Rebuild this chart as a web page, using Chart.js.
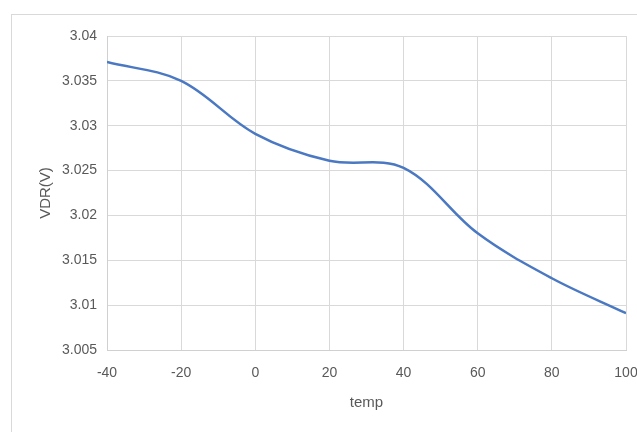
<!DOCTYPE html>
<html>
<head>
<meta charset="utf-8">
<script src="https://cdn.jsdelivr.net/npm/chart.js@4"></script>
<style>
  html, body { margin: 0; padding: 0; background: #fff; }
  #wrap { position: relative; width: 637px; height: 432px; }
</style>
</head>
<body>
<div id="wrap"><canvas id="my-chart" width="637" height="432"></canvas></div>
<script>
// valori
const temp = [-40, -20, 0, 20, 40, 60, 80, 100];
const vdr = [3.0371, 3.035, 3.0291, 3.0261, 3.0253, 3.018, 3.013, 3.0091];
const yTickLabels = ['3.005', '3.01', '3.015', '3.02', '3.025', '3.03', '3.035', '3.04'];

const ctx = document.getElementById('my-chart');

/* bordo esterno come in Excel */
const outerBorder = {
    id: 'outerBorder',
    beforeDraw(chart) {
        const c = chart.ctx;
        c.save();
        c.strokeStyle = '#d9d9d9';
        c.lineWidth = 1;
        c.strokeRect(11.5, 14.5, 700, 500);
        c.restore();
    }
};

const font = { family: 'Liberation Sans', size: 14 };

const data = {
    datasets: [{
        label: 'VDR(V)',
        data: temp.map((t, i) => ({ x: t, y: vdr[i] })),
        borderColor: '#4a78c2',
        borderWidth: 2.5,
        pointRadius: 0,
        tension: 0.35,
        fill: false
    }]
};

const config = {
    type: 'line',
    data: data,
    options: {
        responsive: false,
        animation: false,
        layout: { padding: { top: 36, right: 11, bottom: 0, left: 0 } },
        plugins: {
            legend: { display: false },
            tooltip: { enabled: false }
        },
        scales: {
            x: {
                type: 'linear',
                min: -40,
                max: 100,
                ticks: { stepSize: 20, color: '#595959', font: font, padding: 15 },
                grid: { color: '#d9d9d9', drawTicks: false },
                border: { color: '#d0d0d0' },
                title: { display: true, text: 'temp', color: '#595959', font: { family: 'Liberation Sans', size: 15 }, padding: { top: 0, bottom: 20 } },
                afterFit: (s) => {
                    s.height = 82;
                    s.paddingLeft = 0;
                    s.paddingRight = 0;
                }
            },
            y: {
                min: 3.005,
                max: 3.04,
                ticks: {
                    stepSize: 0.005,
                    color: '#595959',
                    font: font,
                    padding: 10,
                    callback: (v, i) => yTickLabels[i] || String(parseFloat(v.toFixed(3)))
                },
                grid: { color: '#d9d9d9', drawTicks: false },
                border: { color: '#d0d0d0' },
                title: { display: true, text: 'VDR(V)', color: '#595959', font: { family: 'Liberation Sans', size: 15 }, padding: { top: 37, bottom: 0 } },
                afterFit: (s) => {
                    s.width = 107;
                    s.paddingTop = 0;
                    s.paddingBottom = 0;
                }
            }
        }
    },
    plugins: [outerBorder]
};

const myChart = new Chart(ctx, config);
</script>
</body>
</html>
